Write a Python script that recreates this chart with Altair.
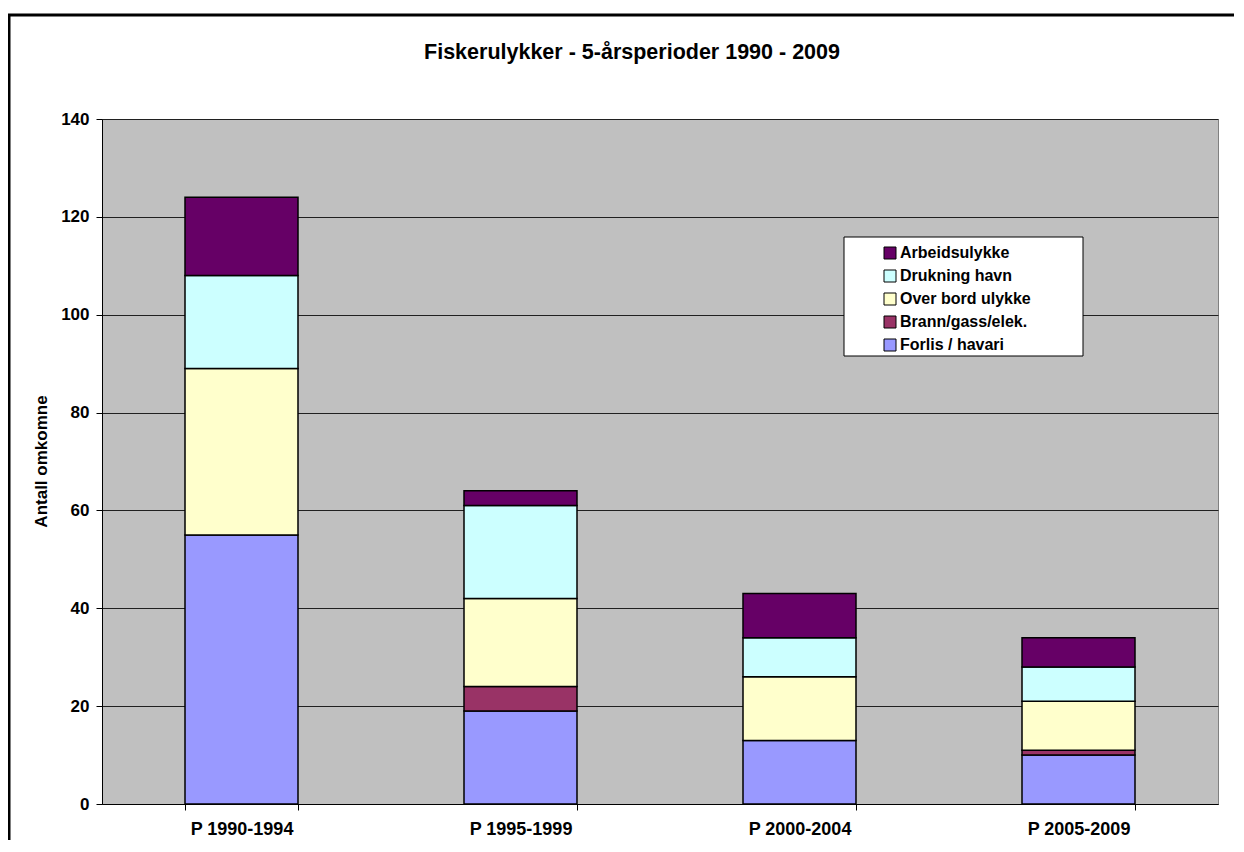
import altair as alt
import pandas as pd

periods = ["P 1990-1994", "P 1995-1999", "P 2000-2004", "P 2005-2009"]
forlis = [55, 19, 13, 10]
brann = [0, 5, 0, 1]
overbord = [34, 18, 13, 10]
drukning = [19, 19, 8, 7]
arbeid = [16, 3, 9, 6]

stack_order = ["Forlis / havari", "Brann/gass/elek.", "Over bord ulykke", "Drukning havn", "Arbeidsulykke"]
legend_order = ["Arbeidsulykke", "Drukning havn", "Over bord ulykke", "Brann/gass/elek.", "Forlis / havari"]
legend_colors = ["#660066", "#CCFFFF", "#FFFFCC", "#993366", "#9999FF"]
y_ticks = [0, 20, 40, 60, 80, 100, 120, 140]
title_text = "Fiskerulykker - 5-årsperioder 1990 - 2009"
y_title = "Antall omkomne"

series = [forlis, brann, overbord, drukning, arbeid]
rows = []
for k, (cat, vals) in enumerate(zip(stack_order, series)):
    for p, v in zip(periods, vals):
        if v > 0:
            rows.append({"period": p, "category": cat, "value": v, "ord": k})
df = pd.DataFrame(rows)

FONT = "Liberation Sans"

bars = alt.Chart(df).mark_bar(stroke="black", strokeWidth=1.5).encode(
    x=alt.X("period:N", sort=periods, title="",
            scale=alt.Scale(paddingInner=0.595, paddingOuter=0.2975),
            axis=alt.Axis(labelAngle=0, tickBand="extent", tickSize=6, tickColor="black",
                          domainColor="black", labelFontSize=18, labelFontWeight="bold",
                          labelColor="black", labelFont=FONT, labelPadding=10, grid=False)),
    y=alt.Y("value:Q", stack="zero",
            scale=alt.Scale(domain=[0, 140], nice=False),
            axis=alt.Axis(values=y_ticks, grid=True, gridColor="#202020", gridWidth=1,
                          tickSize=6, tickColor="black", domainColor="black",
                          labelFontSize=17, labelFontWeight="bold", labelColor="black",
                          labelFont=FONT, labelPadding=7,
                          title=y_title, titleFontSize=17, titleFontWeight="bold",
                          titleColor="black", titleFont=FONT, titleAngle=270,
                          titleX=-61, titleY=342, titleAlign="center", titleBaseline="middle")),
    color=alt.Color("category:N",
                    scale=alt.Scale(domain=legend_order, range=legend_colors),
                    legend=alt.Legend(orient="none", legendX=780, legendY=126, title="",
                                      symbolType="square", symbolSize=144,
                                      symbolStrokeColor="black", symbolStrokeWidth=1,
                                      symbolOpacity=1,
                                      labelFontSize=16, labelFontWeight="bold",
                                      labelColor="black", labelFont=FONT,
                                      labelOffset=2, rowPadding=7, padding=0)),
    order=alt.Order("ord:Q"),
)

helper = pd.DataFrame({"a": [0]})

border = alt.Chart(helper).mark_rect(fillOpacity=0, stroke="black", strokeWidth=3).encode(
    x=alt.value(-93), x2=alt.value(1300), y=alt.value(-104), y2=alt.value(900)
)

legend_box = alt.Chart(helper).mark_rect(fill="white", stroke="black", strokeWidth=1).encode(
    x=alt.value(742), x2=alt.value(981), y=alt.value(118), y2=alt.value(237)
)

title = alt.Chart(helper).mark_text(text=title_text, font=FONT, fontSize=21.5, fontWeight="bold",
                                    color="black", align="center", baseline="middle").encode(
    x=alt.value(530), y=alt.value(-66)
)

chart = alt.layer(border, bars, legend_box, title).properties(
    width=1116, height=685,
    autosize=alt.AutoSizeParams(type="none"),
    padding={"left": 94, "top": 111, "right": 16, "bottom": 36},
    background="white",
).configure_view(fill="#C0C0C0", stroke="#808080", strokeWidth=1)

chart.save("out.html", embed_options={"renderer": "svg", "actions": False})
